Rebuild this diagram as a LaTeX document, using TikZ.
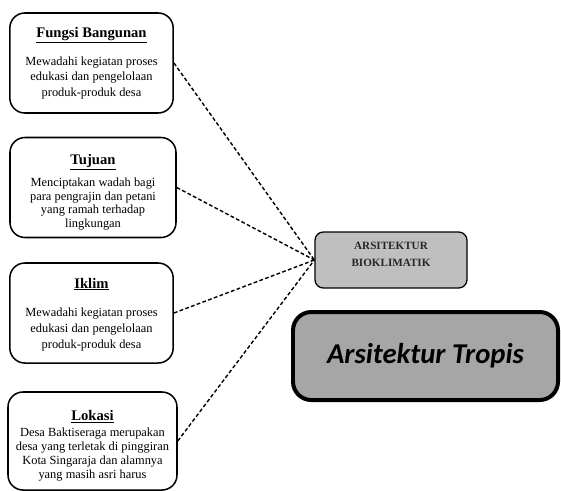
\documentclass[tikz,border=0pt]{standalone}
\usepackage{fontspec}
\setmainfont{Liberation Serif}
\newfontfamily\tropisfont{Carlito}
\usetikzlibrary{positioning}

\newcommand{\boxhead}[1]{{\fontsize{12.5}{15}\selectfont\bfseries\underline{#1}}}

\begin{document}
\begin{tikzpicture}[x=0.03cm, y=-0.03cm,
  info/.style={draw, line width=1.3pt, rounded corners=0.45cm, align=center, inner sep=0pt, minimum width=4.9cm, minimum height=3cm},
  bio/.style={draw, line width=1.1pt, fill=gray!50, rounded corners=0.25cm, align=center, inner sep=0pt, minimum width=4.56cm, minimum height=1.68cm, font=\fontsize{9.5}{14}\selectfont\bfseries, text=black!85},
  trop/.style={draw, line width=3.4pt, fill=black!35, rounded corners=0.55cm, inner sep=0pt, minimum width=7.95cm, minimum height=2.64cm, font=\tropisfont\bfseries\itshape\fontsize{24.5}{28}\selectfont},
  link/.style={line width=1.2pt, dash pattern=on 3.2pt off 2pt}
]
  \useasboundingbox (0,0) rectangle (561,490);

  \node[info, font=\fontsize{10.6}{13.2}\selectfont](fungsi) at (91.5,63)
    {\boxhead{Fungsi Bangunan}\\[11pt]Mewadahi kegiatan proses\\edukasi dan pengelolaan\\produk-produk desa};
  \node[info, minimum width=4.98cm, font=\fontsize{10.6}{11.6}\selectfont](tujuan) at (93,187.5)
    {\rule{0pt}{17pt}\boxhead{Tujuan}\\[5.5pt]Menciptakan wadah bagi\\para pengrajin dan petani\\yang ramah terhadap\\lingkungan};
  \node[info, font=\fontsize{10.6}{13.6}\selectfont](iklim) at (91.5,313)
    {\rule{0pt}{11pt}\boxhead{Iklim}\\[10.5pt]Mewadahi kegiatan proses\\edukasi dan pengelolaan\\produk-produk desa};
  \node[info, minimum width=5.07cm, minimum height=2.94cm, font=\fontsize{10.6}{11.9}\selectfont](lokasi) at (92.5,441)
    {\rule{0pt}{17pt}\boxhead{Lokasi}\\[2pt]Desa Baktiseraga merupakan\\desa yang terletak di pinggiran\\Kota Singaraja dan alamnya\\yang masih asri harus};

  \node[bio](bioklim) at (391,260) {ARSITEKTUR\\BIOKLIMATIK\\[-4pt]\mbox{}};
  \node[trop](tropis) at (425.5,356) {Arsitektur Tropis};

  \foreach \b in {fungsi, tujuan, iklim, lokasi}{\draw[link](\b.east) -- (bioklim.west);}
\end{tikzpicture}
\end{document}
